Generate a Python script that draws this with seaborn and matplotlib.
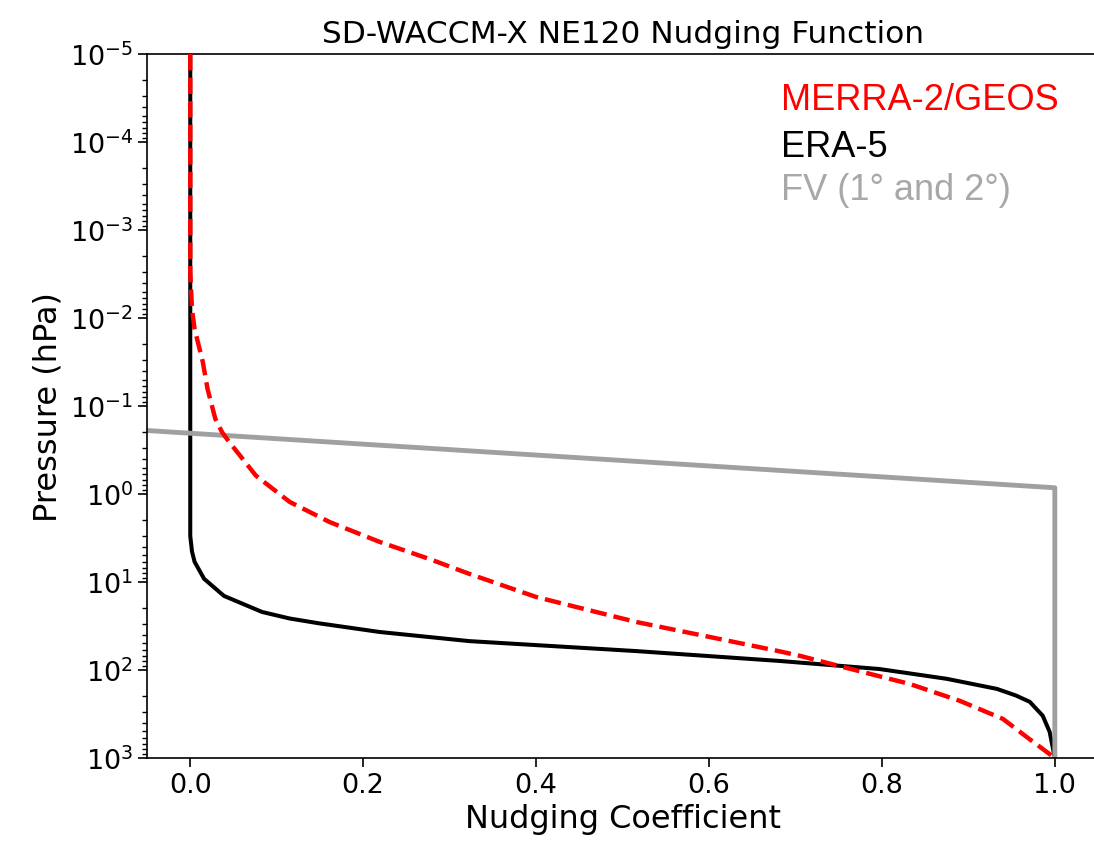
import numpy as np
import pandas as pd
import matplotlib
matplotlib.use('Agg')
import matplotlib.pyplot as plt
import seaborn as sns

# values (pressure in hPa, nudging coefficient)
merra_p = [1e-5, 3e-3, 0.008, 0.0133, 0.0316, 0.064, 0.14, 0.2, 0.256, 0.62, 1.23, 2.08,
           3.5, 5.5, 8.1, 14.8, 28.5, 42, 60, 69, 92.5, 144, 224, 360, 603, 1000]
merra_c = [0.0, 0.0, 0.002, 0.005, 0.0145, 0.02, 0.029, 0.037, 0.045, 0.076, 0.115, 0.161,
           0.219, 0.277, 0.323, 0.4, 0.516, 0.6, 0.677, 0.705, 0.755, 0.832, 0.89, 0.94,
           0.97, 1.0]

era5_p = [1e-5, 3.0, 4.5, 5.9, 9.2, 14.4, 21.9, 26, 29.5, 37, 47, 61, 79, 97.5, 126, 164,
          195, 230, 331, 505, 1000]
era5_c = [0.0, 0.0, 0.002, 0.005, 0.016, 0.039, 0.083, 0.115, 0.149, 0.219, 0.323, 0.516,
          0.682, 0.797, 0.875, 0.933, 0.955, 0.971, 0.986, 0.994, 1.0]

fv_p = [0.19, 0.85, 1000]
fv_c = [-0.05, 1.0, 1.0]

sns.set_style('ticks')

fig = plt.figure(figsize=(10.94, 8.45), dpi=100)
ax = fig.add_axes([0.1344, 0.1018, 0.8693, 0.8331])

sns.lineplot(x=merra_c, y=merra_p, sort=False, estimator=None, color='red',
             lw=3.2, ls='--', ax=ax)
sns.lineplot(x=era5_c, y=era5_p, sort=False, estimator=None, color='black',
             lw=2.9, ax=ax)
sns.lineplot(x=fv_c, y=fv_p, sort=False, estimator=None, color='#a0a0a0',
             lw=3.5, ax=ax)
# dashed red drawn on top of black near the top
ax.lines[0].set_zorder(3)

ax.set_yscale('log')
ax.set_ylim(1e3, 1e-5)
ax.set_xlim(-0.05, 1.05)
ax.set_xticks([0.0, 0.2, 0.4, 0.6, 0.8, 1.0])
ax.set_yticks([10.0**k for k in range(-5, 4)])
ax.spines['right'].set_visible(False)
for s in ['left', 'bottom', 'top']:
    ax.spines[s].set_linewidth(1.2)
    ax.spines[s].set_color('black')
ax.tick_params(axis='both', which='major', labelsize=19.5, length=6.5, width=1.2,
               direction='out', colors='black')
ax.tick_params(axis='y', which='minor', length=3.5, width=1.0, colors='black')

ax.set_xlabel('Nudging Coefficient', fontsize=23, color='black')
ax.set_ylabel('Pressure (hPa)', fontsize=23, color='black')
ax.set_title('SD-WACCM-X NE120 Nudging Function', fontsize=22.5, pad=9, color='black')

legend_font = ['Liberation Sans', 'DejaVu Sans']
ax.text(0.667, 0.935, 'MERRA-2/GEOS', color='red', fontsize=26, family=legend_font,
        va='center', transform=ax.transAxes)
ax.text(0.667, 0.869, 'ERA-5', color='black', fontsize=26, family=legend_font,
        va='center', transform=ax.transAxes)
ax.text(0.667, 0.808, 'FV (1° and 2°)', color='#a8a8a8', fontsize=26, family=legend_font,
        va='center', transform=ax.transAxes)

plt.savefig('out.png', dpi=100)
